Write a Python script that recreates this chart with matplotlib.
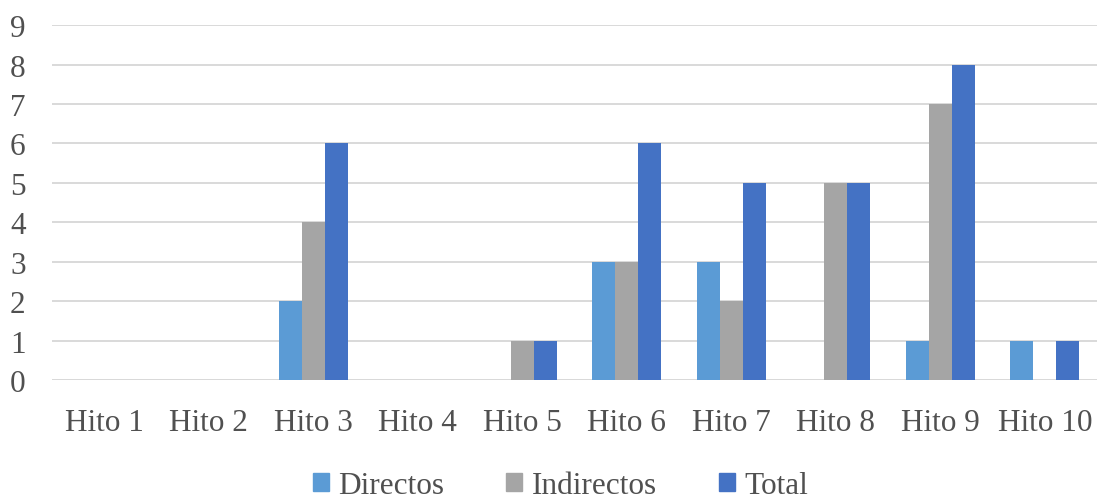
import numpy as np
import matplotlib
matplotlib.use("Agg")
import matplotlib.pyplot as plt
from matplotlib.patches import Patch

categories = ["Hito 1", "Hito 2", "Hito 3", "Hito 4", "Hito 5",
              "Hito 6", "Hito 7", "Hito 8", "Hito 9", "Hito 10"]
directos = [0, 0, 2, 0, 0, 3, 3, 0, 1, 1]
indirectos = [0, 0, 4, 0, 1, 3, 2, 5, 7, 0]
total = [0, 0, 6, 0, 1, 6, 5, 5, 8, 1]

series = [("Directos", directos, "#5B9BD5"),
          ("Indirectos", indirectos, "#A5A5A5"),
          ("Total", total, "#4472C4")]

plt.rcParams["font.family"] = ["Liberation Serif", "DejaVu Serif"]
text_color = "#505050"

fig = plt.figure(figsize=(10.99, 5.02), dpi=100)
ax = fig.add_axes([0.0473, 0.241, 0.951, 0.707])

x = np.arange(len(categories))
w = 0.22
for i, (name, vals, col) in enumerate(series):
    ax.bar(x + (i - 1) * w, vals, width=w, color=col, zorder=3, label=name)

ax.set_xlim(-0.5, len(categories) - 0.5)
ax.set_ylim(0, 9)
ax.set_yticks(range(0, 10))
ax.yaxis.grid(True, color="#D9D9D9", linewidth=1.4, zorder=0)
ax.set_xticks(x)
ax.set_xticklabels(categories)
for s in ax.spines.values():
    s.set_visible(False)
ax.axhline(0, color="#D9D9D9", linewidth=1.4, zorder=2)
ax.tick_params(axis="both", length=0, labelsize=22.5, colors=text_color)
ax.tick_params(axis="y", pad=19)
ax.tick_params(axis="x", pad=20)

handles = [Patch(color=c) for _, _, c in series]
leg = fig.legend(handles, [n for n, _, _ in series], loc="center",
                 bbox_to_anchor=(0.51, 0.03), ncol=3, frameon=False,
                 fontsize=22.5, handlelength=0.5, handleheight=0.5,
                 handletextpad=0.3, columnspacing=2.0)
for t in leg.get_texts():
    t.set_color(text_color)

fig.savefig("out.png", dpi=100)
